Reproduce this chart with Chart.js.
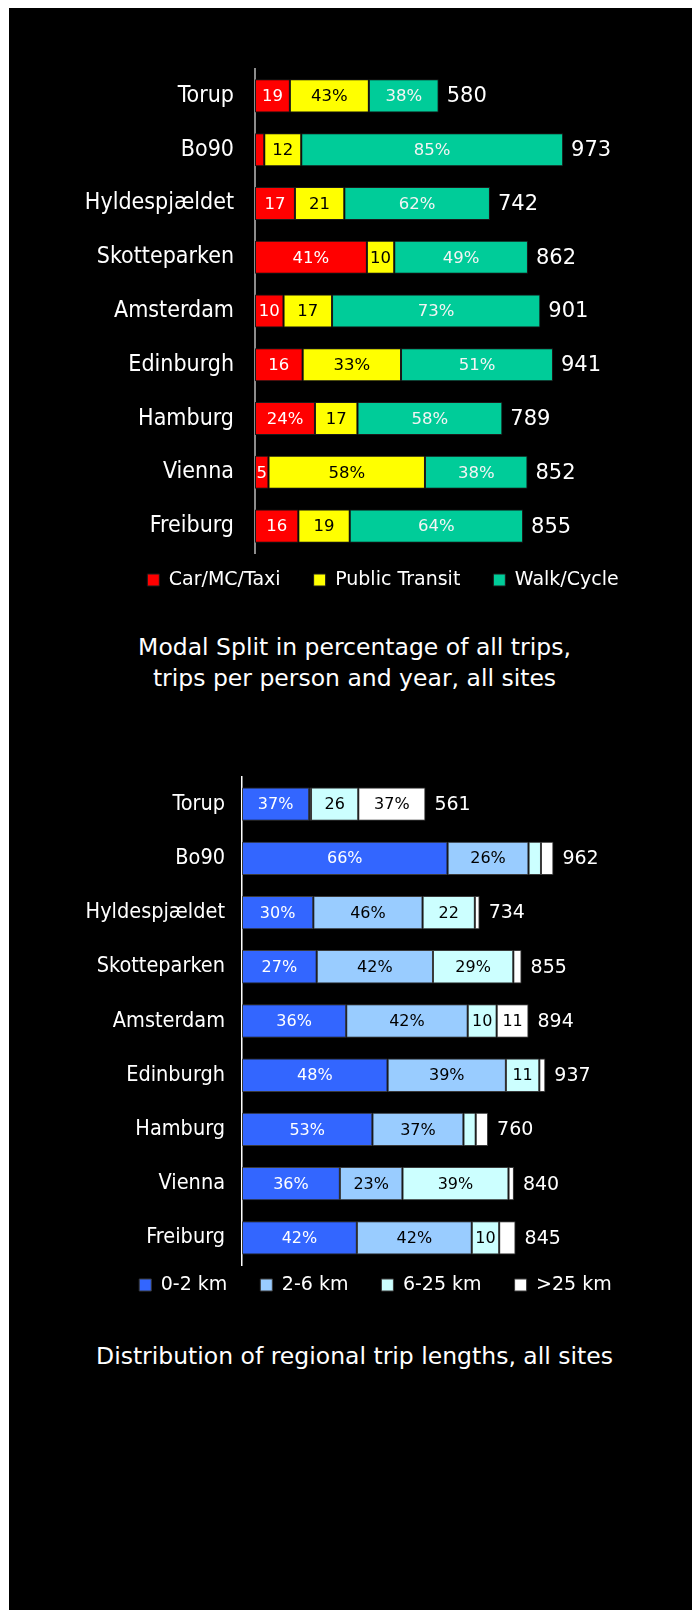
<!DOCTYPE html>
<html>
<head>
<meta charset="utf-8">
<script src="https://cdn.jsdelivr.net/npm/chart.js@4.4.1/dist/chart.umd.min.js"></script>
<style>
  html, body { margin: 0; padding: 0; background: #fff; }
  body { width: 692px; height: 1610px; position: relative; overflow: hidden; }
  #panel { position: absolute; left: 9px; top: 8px; right: 0; bottom: 0; background: #000; }
  canvas { position: absolute; }
  #modal { left: 74px; top: 23px; }
  #dist { left: 59px; top: 732px; }
  .caption {
    position: absolute; left: 0; width: 709px; text-align: center; color: #fff;
    font-family: 'DejaVu Sans', sans-serif; font-size: 23.5px; line-height: 31px;
  }
</style>
</head>
<body>
<div id="panel"></div>
<canvas id="modal" width="618" height="600"></canvas>
<div class="caption" style="top:632px">Modal Split in percentage of all trips,<br>trips per person and year, all sites</div>
<canvas id="dist" width="633" height="603"></canvas>
<div class="caption" style="top:1341px">Distribution of regional trip lengths, all sites</div>

<script>
const sites = ['Torup', 'Bo90', 'Hyldespjældet', 'Skotteparken', 'Amsterdam', 'Edinburgh', 'Hamburg', 'Vienna', 'Freiburg'];

// modal split, % of trips; bar length = trips per person and year
const tripsPerYear = [580, 973, 742, 862, 901, 941, 789, 852, 855];
const carPct = [19, 3, 17, 41, 10, 16, 24, 5, 16];
const transitPct = [43, 12, 21, 10, 17, 33, 17, 58, 19];
const walkPct = [38, 85, 62, 49, 73, 51, 58, 38, 64];

// regional trip lengths, % of trips
const regionalTrips = [561, 962, 734, 855, 894, 937, 760, 840, 845];
const km0to2 = [37, 66, 30, 27, 36, 48, 53, 36, 42];
const km2to6 = [1, 26, 46, 42, 42, 39, 37, 23, 42];
const km6to25 = [26, 4, 22, 29, 10, 11, 5, 39, 10];
const km25plus = [37, 4, 2, 3, 11, 2, 5, 2, 6];

const narrowFont = "'DejaVu Sans Condensed', 'DejaVu Sans', sans-serif";
const wideFont = "'DejaVu Sans', sans-serif";

function share(totals, pct) {
    return pct.map((p, i) => totals[i] * p / 100);
}

// percentage inside each segment + total at the end of the bar
const segmentLabels = {
    id: 'segmentLabels',
    afterDatasetsDraw(chart, args, opts) {
        const ctx = chart.ctx;
        ctx.save();
        ctx.textBaseline = 'middle';
        ctx.textAlign = 'center';
        ctx.font = opts.inSize + 'px ' + wideFont;
        chart.data.datasets.forEach((ds, i) => {
            chart.getDatasetMeta(i).data.forEach((bar, j) => {
                const pct = ds.pct[j];
                if (pct < opts.minPct) return;
                const w = Math.abs(bar.x - bar.base);
                let txt = pct + '%';
                if (ctx.measureText(txt).width + 20 > w) txt = String(pct);
                ctx.fillStyle = ds.textColor;
                ctx.fillText(txt, (bar.x + bar.base) / 2, bar.y + 1);
            });
        });
        const last = chart.getDatasetMeta(chart.data.datasets.length - 1);
        ctx.textAlign = 'left';
        ctx.font = opts.totalSize + 'px ' + wideFont;
        ctx.fillStyle = '#fff';
        last.data.forEach((bar, j) => {
            ctx.fillText(String(opts.totals[j]), bar.x + opts.gap, bar.y + 1);
        });
        ctx.restore();
    }
};

// pull the legend up closer to the bars
const legendLift = {
    id: 'legendLift',
    afterLayout(chart, args, opts) {
        chart.legend.top -= opts.lift;
        chart.legend.bottom -= opts.lift;
    }
};

function makeChart(id, c) {
    return new Chart(document.getElementById(id), {
        type: 'bar',
        data: {
            labels: sites,
            datasets: c.series.map(s => ({
                label: s.label,
                data: share(c.totals, s.pct),
                pct: s.pct,
                textColor: s.text,
                backgroundColor: s.color,
                borderColor: c.edge,
                borderWidth: 1,
                borderSkipped: false,
                barPercentage: 0.615,
                categoryPercentage: 1
            }))
        },
        options: {
            indexAxis: 'y',
            responsive: false,
            animation: false,
            devicePixelRatio: 1,
            layout: { padding: { top: c.padTop, bottom: 8, left: 0, right: 0 } },
            scales: {
                x: { stacked: true, display: false, min: 0, max: c.max },
                y: {
                    stacked: true,
                    grid: { display: false, drawTicks: false },
                    border: { display: true, color: c.axisColor, width: c.axisWidth },
                    ticks: { color: '#fff', font: { family: narrowFont, size: c.tickSize }, padding: c.tickPad },
                    afterFit: scale => { scale.width = c.yWidth; }
                }
            },
            plugins: {
                legend: {
                    position: 'bottom',
                    labels: {
                        color: '#fff',
                        boxWidth: 12,
                        boxHeight: 12,
                        padding: 33,
                        font: { family: wideFont, size: 19 }
                    }
                },
                tooltip: { enabled: false },
                segmentLabels: { totals: c.totals, minPct: c.minPct, inSize: c.inSize, totalSize: c.totalSize, gap: c.gap },
                legendLift: { lift: c.lift }
            }
        },
        plugins: [segmentLabels, legendLift]
    });
}

makeChart('modal', {
    totals: tripsPerYear,
    series: [
        { label: 'Car/MC/Taxi', pct: carPct, color: '#ff0000', text: '#fff' },
        { label: 'Public Transit', pct: transitPct, color: '#ffff00', text: '#000' },
        { label: 'Walk/Cycle', pct: walkPct, color: '#00cc99', text: '#f4f4f4' }
    ],
    edge: '#1a1a1a',
    max: 1380,
    padTop: 46,
    yWidth: 181,
    axisColor: '#8c8c8c',
    axisWidth: 2,
    tickSize: 23,
    tickPad: 21,
    minPct: 5,
    inSize: 16.5,
    totalSize: 21,
    gap: 8,
    lift: 15.5
});

makeChart('dist', {
    totals: regionalTrips,
    series: [
        { label: '0-2 km', pct: km0to2, color: '#3366ff', text: '#fff' },
        { label: '2-6 km', pct: km2to6, color: '#99ccff', text: '#000' },
        { label: '6-25 km', pct: km6to25, color: '#ccffff', text: '#000' },
        { label: '>25 km', pct: km25plus, color: '#ffffff', text: '#000' }
    ],
    edge: '#3a3a3a',
    max: 1390,
    padTop: 45,
    yWidth: 183,
    axisColor: '#ffffff',
    axisWidth: 1.5,
    tickSize: 21.5,
    tickPad: 17,
    minPct: 10,
    inSize: 16,
    totalSize: 19,
    gap: 9,
    lift: 22.5
});
</script>
</body>
</html>
